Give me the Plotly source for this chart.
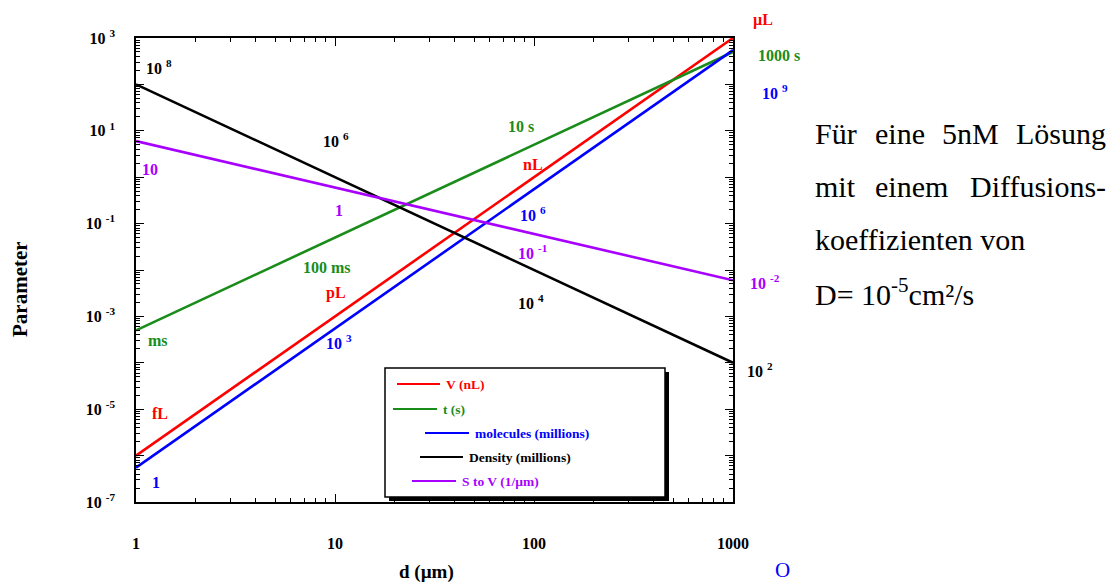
import plotly.graph_objects as go

# ---------------- data ----------------
d_um = [1, 10, 100, 1000]
volume_nL = [1e-6, 1e-3, 1.0, 1e3]
time_s = [5e-4, 5e-2, 5.0, 5e2]
molecules_millions = [5.5e-7, 5.5e-4, 0.55, 550]
density_millions = [100, 1.0, 0.01, 1e-4]
s_to_v = [6.0, 0.6, 0.06, 0.006]

series_names = ["V (nL)", "t (s)", "molecules (millions)", "Density (millions)", "S to V (1/µm)"]
series_values = [volume_nL, time_s, molecules_millions, density_millions, s_to_v]
colors = ["#ff0000", "#1a8c1a", "#0000ff", "#000000", "#a800ff"]

y_exponents = list(range(-7, 4))
y_ticktext = [f"<b>10 <sup>{e}</sup></b>" if e % 2 != 0 else "" for e in y_exponents]
x_tickvals = [1, 10, 100, 1000]
x_ticktext = ["<b>1</b>", "<b>10</b>", "<b>100</b>", "<b>1000</b>"]

# ---------------- figure ----------------
OFF = 8  # page body margin
W, H = 1114 - OFF, 585 - OFF
L, R, T, B = 136, 733, 38, 502   # plot area in reference pixels
FONT = "Liberation Serif"

def px(x):
    return (x - L) / (R - L)

def py(y):
    return (B - y) / (B - T)

fig = go.Figure()
for name, vals, col in zip(series_names, series_values, colors):
    fig.add_trace(go.Scatter(x=d_um, y=vals, mode="lines", name=name,
                             line=dict(color=col, width=2.6), showlegend=False))

axis_common = dict(type="log", showgrid=False, zeroline=False, showline=True,
                   linecolor="black", linewidth=1.5, ticks="inside", mirror="allticks",
                   tickcolor="black", tickwidth=1.2, ticklen=8,
                   tickfont=dict(family=FONT, size=16, color="black"))

fig.update_xaxes(**axis_common, range=[0, 3], tickvals=x_tickvals, ticktext=x_ticktext,
                 ticklabelstandoff=26,
                 minor=dict(ticks="inside", ticklen=4, dtick="D1", tickcolor="black", showgrid=False))
fig.update_yaxes(**axis_common, range=[-7, 3], tickvals=[10.0 ** e for e in y_exponents],
                 ticktext=y_ticktext, ticklabelstandoff=16,
                 minor=dict(ticks="inside", ticklen=4, dtick="D1", tickcolor="black", showgrid=False))

ann = []

def label(x, y, text, color, size=16, xanchor="left", bold=True, family=FONT):
    t = f"<b>{text}</b>" if bold else text
    ann.append(dict(x=px(x), y=py(y), xref="paper", yref="paper", text=t, showarrow=False,
                    xanchor=xanchor, yanchor="middle",
                    font=dict(family=family, size=size, color=color)))

# curve labels
k, p, g, r, bl = colors[3], colors[4], colors[1], colors[0], colors[2]
label(144, 67, "10 <sup>8</sup>", k)
label(321, 140, "10 <sup>6</sup>", k)
label(516, 302, "10 <sup>4</sup>", k)
label(745, 370, "10 <sup>2</sup>", k)
label(140, 170, "10", p)
label(333, 210, "1", p)
label(516, 252, "10 <sup>-1</sup>", p)
label(748, 282, "10 <sup>-2</sup>", p)
label(146, 340, "ms", g)
label(301, 267, "100 ms", g)
label(506, 127, "10 s", g)
label(756, 55, "1000 s", g)
label(150, 413, "fL", r)
label(324, 293, "pL", r)
label(521, 165, "nL", r)
label(751, 20, "µL", r)
label(150, 482, "1", bl)
label(324, 342, "10 <sup>3</sup>", bl)
label(518, 214, "10 <sup>6</sup>", bl)
label(760, 92, "10 <sup>9</sup>", bl)

# axis titles
ann.append(dict(x=px(426), y=py(572), xref="paper", yref="paper", text="<b>d (µm)</b>",
                showarrow=False, xanchor="center", yanchor="middle",
                font=dict(family=FONT, size=19, color="black")))
ann.append(dict(x=px(20), y=py(289), xref="paper", yref="paper", text="<b>Parameter</b>",
                showarrow=False, xanchor="center", yanchor="middle", textangle=-90,
                font=dict(family=FONT, size=21, color="black")))

# right side text
TS = 30
def rtext(x, y, text, xanchor="left"):
    ann.append(dict(x=px(x), y=py(y), xref="paper", yref="paper", text=text, showarrow=False,
                    xanchor=xanchor, yanchor="middle",
                    font=dict(family=FONT, size=TS, color="black")))

Y1, Y2, Y3, Y4 = 133, 186, 239, 292
rtext(813, Y1, "Für")
rtext(873, Y1, "eine")
rtext(940, Y1, "5nM")
rtext(1108, Y1, "Lösung", "right")
rtext(813, Y2, "mit")
rtext(873, Y2, "einem")
rtext(1108, Y2, "Diffusions-", "right")
rtext(813, Y3, "koeffizienten von")
rtext(813, Y4, "D= 10<sup>-5</sup>cm²/s")
ann.append(dict(x=px(782), y=py(570), xref="paper", yref="paper", text="O", showarrow=False,
                xanchor="center", yanchor="middle", font=dict(family=FONT, size=21, color="#0000ff")))

# manual legend
shapes = []
shapes.append(dict(type="rect", xref="paper", yref="paper", x0=px(389), x1=px(669),
                   y0=py(501), y1=py(372), fillcolor="black", line=dict(width=0)))
shapes.append(dict(type="rect", xref="paper", yref="paper", x0=px(385), x1=px(665),
                   y0=py(497), y1=py(368), fillcolor="white", line=dict(color="black", width=1.5)))
legend_rows = [(397, 440, 384), (393, 437, 409), (425, 469, 433), (420, 463, 457), (412, 456, 481)]
for (x0, x1, yy), name, col in zip(legend_rows, series_names, colors):
    shapes.append(dict(type="line", xref="paper", yref="paper", x0=px(x0), x1=px(x1),
                       y0=py(yy), y1=py(yy), line=dict(color=col, width=2.2)))
    label(x1 + 4, yy, name, col, size=13.5)

fig.update_layout(width=W, height=H,
                  margin=dict(l=L - OFF, r=W - (R - OFF), t=T - OFF, b=H - (B - OFF)),
                  paper_bgcolor="white", plot_bgcolor="white",
                  annotations=ann, shapes=shapes, showlegend=False)

fig.write_html("out.html")
